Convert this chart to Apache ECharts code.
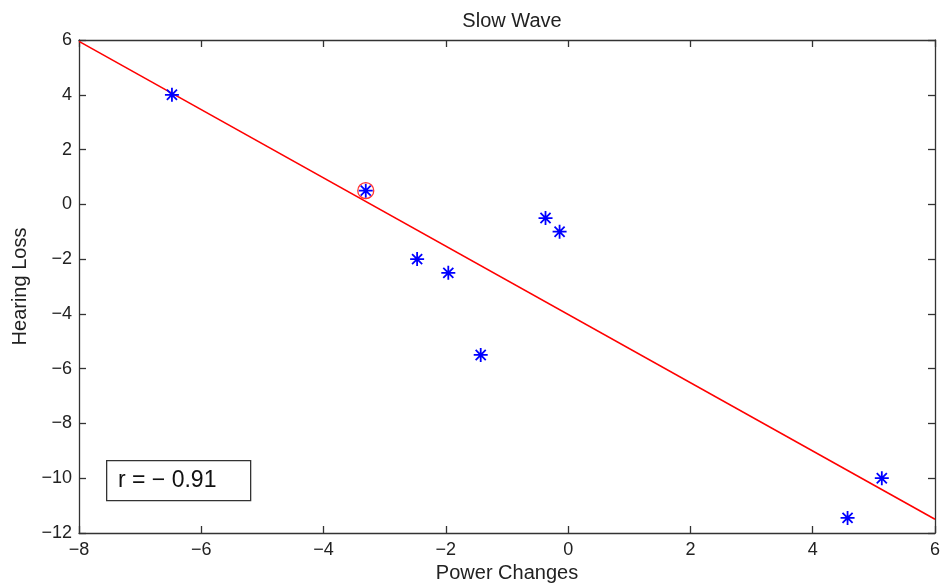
<!DOCTYPE html>
<html>
<head>
<meta charset="utf-8">
<script src="https://cdn.jsdelivr.net/npm/echarts@6/dist/echarts.min.js"></script>
<style>html,body{margin:0;padding:0;background:#fff;}#c{width:946px;height:586px;}</style>
</head>
<body>
<div id="c"></div>
<script>
var titleText = 'Slow Wave';
var xName = 'Power Changes';
var yName = 'Hearing Loss';
var annotation = 'r = \u2212 0.91';
var xTicks = [-8, -6, -4, -2, 0, 2, 4, 6];
var yTicks = [-12, -10, -8, -6, -4, -2, 0, 2, 4, 6];
var powerChanges = [-6.48, -3.31, -2.47, -1.96, -1.43, -0.37, -0.14, 4.57, 5.13];
var hearingLoss = [4.0, 0.5, -2.0, -2.5, -5.5, -0.5, -1.0, -11.45, -10.0];
var highlighted = [[-3.31, 0.5]];
var fitLine = [[-8, 5.95], [6, -11.5]];

var pts = powerChanges.map(function (x, i) { return [x, hearingLoss[i]]; });
var chart = echarts.init(document.getElementById('c'));
var font = 'Liberation Sans, Arial, sans-serif';
var axisCol = '#333';
function fmt(v) { return v < 0 ? '\u2212' + Math.abs(v) : String(v); }
function axisCommon(show) {
  return {
    axisLine: { show: true, onZero: false, lineStyle: { color: axisCol, width: 1.3 } },
    axisTick: { show: true, inside: true, length: 7, lineStyle: { color: axisCol, width: 1.3 } },
    splitLine: { show: false },
    axisLabel: { show: show, color: '#222', fontSize: 18, fontFamily: font, formatter: fmt }
  };
}
var xa = Object.assign({ type: 'value', min: xTicks[0], max: xTicks[xTicks.length - 1], interval: 2, position: 'bottom',
  name: xName, nameLocation: 'middle', nameGap: 29, nameTextStyle: { color: '#222', fontSize: 20, fontFamily: font } }, axisCommon(true));
xa.axisLabel.margin = 8;
var xa2 = Object.assign({ type: 'value', min: xTicks[0], max: xTicks[xTicks.length - 1], interval: 2, position: 'top' }, axisCommon(false));
var ya = Object.assign({ type: 'value', min: yTicks[0], max: yTicks[yTicks.length - 1], interval: 2, position: 'left',
  name: yName, nameLocation: 'middle', nameGap: 47, nameTextStyle: { color: '#222', fontSize: 20, fontFamily: font } }, axisCommon(true));
ya.axisLabel.margin = 7;
var ya2 = Object.assign({ type: 'value', min: yTicks[0], max: yTicks[yTicks.length - 1], interval: 2, position: 'right' }, axisCommon(false));

var star = 'path://M0,-1L0,1M-1,0L1,0M-0.72,-0.72L0.72,0.72M-0.72,0.72L0.72,-0.72';
chart.setOption({
  animation: false,
  backgroundColor: '#fff',
  title: { text: titleText, left: 507, textAlign: 'center', top: 6, textStyle: { color: '#222', fontSize: 20, fontWeight: 'normal', fontFamily: font } },
  grid: { left: 79, right: 11, top: 40, bottom: 53, containLabel: false, outerBoundsMode: 'none' },
  xAxis: [xa, xa2],
  yAxis: [ya, ya2],
  series: [
    { type: 'line', data: fitLine, symbol: 'none', lineStyle: { color: '#ff0000', width: 1.6 }, z: 2 },
    { type: 'scatter', data: pts, symbol: star, symbolSize: 14,
      itemStyle: { color: 'rgba(0,0,0,0)', borderColor: '#0000ff', borderWidth: 1.8, opacity: 1 }, z: 3 },
    { type: 'scatter', data: highlighted, symbol: 'circle', symbolSize: 16,
      itemStyle: { color: 'rgba(0,0,0,0)', borderColor: '#ff0000', borderWidth: 1.3 }, z: 4 }
  ],
  graphic: [
    { type: 'rect', left: 106, top: 460, shape: { width: 144, height: 40 },
      style: { fill: '#fff', stroke: '#333', lineWidth: 1.3 }, z: 10 },
    { type: 'text', left: 118, top: 469, style: { text: annotation, fill: '#111', fontSize: 23, fontFamily: font }, z: 11 }
  ]
});
</script>
</body>
</html>
